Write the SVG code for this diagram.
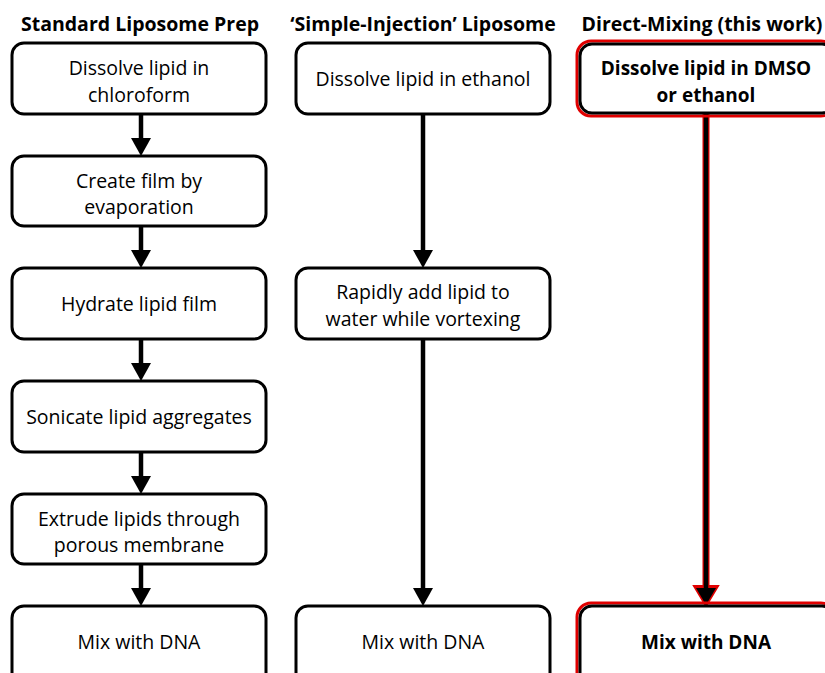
<svg xmlns="http://www.w3.org/2000/svg" width="825" height="673" viewBox="0 0 825 673">
<defs>
<style>
.box{fill:#fff;stroke:#000;stroke-width:3}
.red{fill:none;stroke:#e00000;stroke-width:3}
.t{font-family:"Open Sans","Liberation Sans",sans-serif;font-size:19.5px;text-anchor:middle;fill:#000}
.b{font-weight:bold;font-size:19px}
.h{font-family:"Open Sans","Liberation Sans",sans-serif;font-size:19.5px;font-weight:bold;text-anchor:middle;fill:#000}
.shaft{stroke:#000;stroke-width:4.5;fill:none}
.head{fill:#000}
</style>
</defs>
<rect width="825" height="673" fill="#fff"/>
<g id="headings">
<text class="h" x="140" y="31">Standard Liposome Prep</text>
<text class="h" x="423" y="31">‘Simple-Injection’ Liposome</text>
<text class="h" x="702" y="31" font-size="19">Direct-Mixing (this work)</text>
</g>
<g id="connectors">
<line class="shaft" x1="141" y1="114" x2="141" y2="140"/>
<polygon class="head" points="131,138 151,138 141,156"/>
<line class="shaft" x1="141" y1="226" x2="141" y2="252"/>
<polygon class="head" points="131,250 151,250 141,268"/>
<line class="shaft" x1="141" y1="339" x2="141" y2="365"/>
<polygon class="head" points="131,363 151,363 141,381"/>
<line class="shaft" x1="141" y1="452" x2="141" y2="478"/>
<polygon class="head" points="131,476 151,476 141,494"/>
<line class="shaft" x1="141" y1="564" x2="141" y2="590"/>
<polygon class="head" points="131,588 151,588 141,606"/>
<line class="shaft" x1="423" y1="114" x2="423" y2="252"/>
<polygon class="head" points="413,250 433,250 423,268"/>
<line class="shaft" x1="423" y1="339" x2="423" y2="590"/>
<polygon class="head" points="413,588 433,588 423,606"/>
<line x1="706" y1="114" x2="706" y2="590" stroke="#e00000" stroke-width="7"/>
<polygon points="694,586 718,586 706,606" fill="#e00000" stroke="#e00000" stroke-width="2"/>
<line class="shaft" x1="706" y1="114" x2="706" y2="590"/>
<polygon class="head" points="696,588 716,588 706,605"/>
</g>
<g id="n1">
<rect class="box" x="12" y="43" width="254" height="71" rx="12"/>
<text class="t" x="139" y="75">Dissolve lipid in</text>
<text class="t" x="139" y="102">chloroform</text>
</g>
<g id="n2">
<rect class="box" x="12" y="156" width="254" height="70" rx="12"/>
<text class="t" x="139" y="188">Create film by</text>
<text class="t" x="139" y="214">evaporation</text>
</g>
<g id="n3">
<rect class="box" x="12" y="268" width="254" height="71" rx="12"/>
<text class="t" x="139" y="311">Hydrate lipid film</text>
</g>
<g id="n4">
<rect class="box" x="12" y="381" width="254" height="71" rx="12"/>
<text class="t" x="139" y="424">Sonicate lipid aggregates</text>
</g>
<g id="n5">
<rect class="box" x="12" y="494" width="254" height="70" rx="12"/>
<text class="t" x="139" y="526">Extrude lipids through</text>
<text class="t" x="139" y="552">porous membrane</text>
</g>
<g id="n6">
<rect class="box" x="12" y="606" width="254" height="80" rx="12"/>
<text class="t" x="139" y="649">Mix with DNA</text>
</g>
<g id="m1">
<rect class="box" x="296" y="43" width="254" height="71" rx="12"/>
<text class="t" x="423" y="86">Dissolve lipid in ethanol</text>
</g>
<g id="m2">
<rect class="box" x="296" y="268" width="254" height="71" rx="12"/>
<text class="t" x="423" y="299">Rapidly add lipid to</text>
<text class="t" x="423" y="326">water while vortexing</text>
</g>
<g id="m3">
<rect class="box" x="296" y="606" width="254" height="80" rx="12"/>
<text class="t" x="423" y="649">Mix with DNA</text>
</g>
<g id="d1">
<rect class="red" x="577" y="41" width="258" height="75" rx="14"/>
<rect class="box" x="580" y="44" width="254" height="69" rx="12"/>
<text class="t b" x="706" y="75">Dissolve lipid in DMSO</text>
<text class="t b" x="706" y="102">or ethanol</text>
</g>
<g id="d2">
<rect class="red" x="577" y="603" width="258" height="86" rx="14"/>
<rect class="box" x="580" y="606" width="254" height="80" rx="12"/>
<text class="t b" x="706" y="649">Mix with DNA</text>
</g>
</svg>
